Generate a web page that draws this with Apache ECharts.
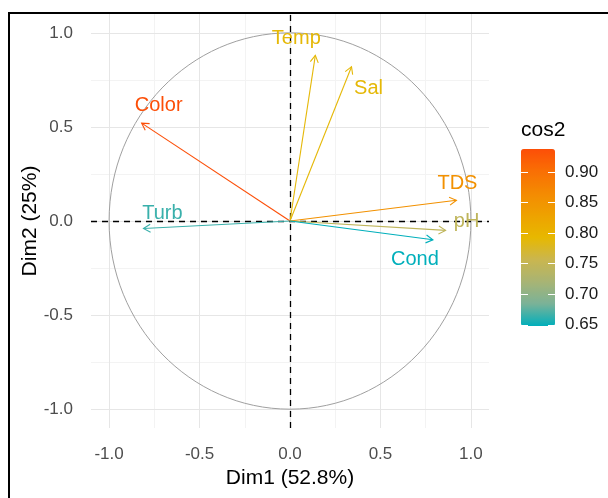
<!DOCTYPE html>
<html>
<head>
<meta charset="utf-8">
<script src="https://cdn.jsdelivr.net/npm/echarts@6/dist/echarts.min.js"></script>
<style>
  html, body { margin: 0; padding: 0; background: #fff; }
  #chart { width: 608px; height: 498px; }
</style>
</head>
<body>
<div id="chart"></div>
<script>
// variables of the PCA correlation circle
const varNames = ['Temp', 'Sal', 'TDS', 'pH', 'Cond', 'Color', 'Turb']
const dim1 = [0.14, 0.34, 0.92, 0.86, 0.79, -0.82, -0.81]
const dim2 = [0.88, 0.82, 0.11, -0.05, -0.10, 0.52, -0.04]
const cos2 = [0.79, 0.79, 0.855, 0.745, 0.648, 0.938, 0.665]

const axisTicks = [-1, -0.5, 0, 0.5, 1]
const minorGrid = [-0.75, -0.25, 0.25, 0.75]
const legendTicks = [0.65, 0.7, 0.75, 0.8, 0.85, 0.9]

// label placement relative to arrow tip, in px
const labelOffset = {
  Temp: [-19, -17], Sal: [17, 22], TDS: [1, -17], pH: [21, -9],
  Cond: [-18, 20], Color: [17, -18], Turb: [19, -15],
}

// teal -> yellow -> orange, interpolated in Lab like ggplot's gradientn
const gradientCols = ['#00AFBB', '#7AB298', '#A8B474', '#CAB64F', '#E7B800', '#EEA200', '#F48A02', '#F96F04', '#FC4E07']

const FONT = '"Liberation Sans", Arial, sans-serif'
const cMin = Math.min(...cos2)
const cMax = Math.max(...cos2)

const arrowData = varNames.map((n, i) => [dim1[i], dim2[i], cos2[i]])

function renderArrow(params, api) {
  const p0 = api.coord([0, 0])
  const p1 = api.coord([api.value(0), api.value(1)])
  const color = api.visual('color')
  const ang = Math.atan2(p1[1] - p0[1], p1[0] - p0[0])
  const head = 8
  const spread = Math.PI / 6
  const h1 = [p1[0] - head * Math.cos(ang - spread), p1[1] - head * Math.sin(ang - spread)]
  const h2 = [p1[0] - head * Math.cos(ang + spread), p1[1] - head * Math.sin(ang + spread)]
  const name = varNames[params.dataIndex]
  const off = labelOffset[name]
  return {
    type: 'group',
    children: [
      { type: 'line', shape: { x1: p0[0], y1: p0[1], x2: p1[0], y2: p1[1] }, style: { stroke: color, lineWidth: 1.1 } },
      { type: 'polyline', shape: { points: [h1, p1, h2] }, style: { stroke: color, lineWidth: 1.1, fill: null } },
      {
        type: 'text', x: p1[0] + off[0], y: p1[1] + off[1],
        style: { text: name, fill: color, fontSize: 20, fontFamily: FONT, align: 'center', verticalAlign: 'middle' },
      },
    ],
  }
}

function renderCircle(params, api) {
  const c = api.coord([api.value(0), api.value(1)])
  const s = api.size([api.value(2), api.value(2)])
  return {
    type: 'ellipse',
    shape: { cx: c[0], cy: c[1], rx: s[0], ry: s[1] },
    style: { stroke: '#a0a0a0', lineWidth: 1, fill: null },
  }
}

const tickLabel = { color: '#4d4d4d', fontSize: 17, fontFamily: FONT }
const legendTick = { customValues: legendTicks, inside: true, length: 7, lineStyle: { color: '#fff', width: 1 } }

const option = {
  animation: false,
  backgroundColor: '#fff',
  graphic: [
    { type: 'rect', shape: { x: 9, y: 13, width: 700, height: 600 }, style: { stroke: '#000', lineWidth: 2, fill: null }, z: 100 },
  ],
  grid: [
    { left: 91, right: 119, top: 14, bottom: 70 },
    { left: 521, top: 149, width: 34, height: 177 },
  ],
  xAxis: [
    {
      type: 'value', min: -1.1, max: 1.1,
      name: 'Dim1 (52.8%)', nameLocation: 'middle', nameGap: 40, nameMoveOverlap: false,
      nameTextStyle: { color: '#000', fontSize: 21, fontFamily: FONT },
      axisLine: { show: false },
      splitLine: { show: false },
      axisTick: { customValues: axisTicks, length: 5, lineStyle: { color: '#333' } },
      axisLabel: { customValues: axisTicks, formatter: (v) => v.toFixed(1), margin: 18, ...tickLabel },
    },
    { type: 'value', gridIndex: 1, min: 0, max: 1, show: false },
  ],
  yAxis: [
    {
      type: 'value', min: -1.1, max: 1.1,
      name: 'Dim2 (25%)', nameLocation: 'middle', nameGap: 50, nameRotate: 90, nameMoveOverlap: false,
      nameTextStyle: { color: '#000', fontSize: 21, fontFamily: FONT },
      axisLine: { show: false },
      splitLine: { show: false },
      axisTick: { customValues: axisTicks, length: 5, lineStyle: { color: '#333' } },
      axisLabel: { customValues: axisTicks, formatter: (v) => v.toFixed(1), margin: 18, ...tickLabel },
    },
    {
      type: 'value', gridIndex: 1, min: cMin, max: cMax, position: 'left', z: 10,
      name: 'cos2', nameLocation: 'end', nameGap: 8,
      nameTextStyle: { color: '#000', fontSize: 21, fontFamily: FONT, align: 'left' },
      axisLine: { show: false }, splitLine: { show: false }, axisLabel: { show: false },
      axisTick: legendTick,
    },
    {
      type: 'value', gridIndex: 1, min: cMin, max: cMax, position: 'right', z: 10,
      axisLine: { show: false }, splitLine: { show: false },
      axisTick: legendTick,
      axisLabel: { customValues: legendTicks, formatter: (v) => v.toFixed(2), margin: 10, color: '#1a1a1a', fontSize: 17, fontFamily: FONT },
    },
  ],
  visualMap: {
    type: 'continuous', min: cMin, max: cMax, dimension: 2, seriesIndex: 4,
    inRange: { color: gradientCols },
    left: 521, top: 149, itemWidth: 34, itemHeight: 177, padding: 0,
    calculable: false, hoverLink: false, orient: 'vertical', text: null,
  },
  series: [
    {
      type: 'line', data: [], z: 1,
      markLine: {
        z: 1, silent: true, symbol: 'none', label: { show: false },
        lineStyle: { color: '#f3f3f3', width: 1, type: 'solid' },
        data: [...minorGrid.map((v) => ({ xAxis: v })), ...minorGrid.map((v) => ({ yAxis: v }))],
      },
    },
    {
      type: 'line', data: [], z: 1,
      markLine: {
        z: 1, silent: true, symbol: 'none', label: { show: false },
        lineStyle: { color: '#e6e6e6', width: 1, type: 'solid' },
        data: [...axisTicks.map((v) => ({ xAxis: v })), ...axisTicks.map((v) => ({ yAxis: v }))],
      },
    },
    {
      type: 'custom', renderItem: renderCircle, data: [[0, 0, 1]], z: 2, silent: true,
    },
    {
      type: 'line', data: [], z: 3,
      markLine: {
        z: 3, silent: true, symbol: 'none', label: { show: false },
        lineStyle: { color: '#000', width: 1.3, type: [6, 5] },
        data: [{ xAxis: 0 }, { yAxis: 0 }],
      },
    },
    {
      type: 'custom', renderItem: renderArrow, data: arrowData, z: 6, silent: true,
    },
  ],
}

const chart = echarts.init(document.getElementById('chart'))
chart.setOption(option)
</script>
</body>
</html>
